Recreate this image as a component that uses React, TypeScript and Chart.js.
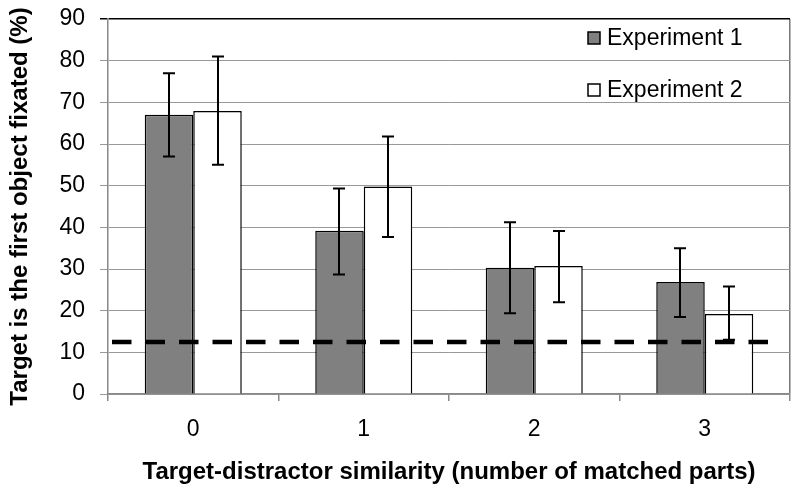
import React, { useEffect, useRef } from "react";
import { Chart, registerables } from "chart.js";

Chart.register(...registerables);

const categories = ["0", "1", "2", "3"];
const seriesLabels = ["Experiment 1", "Experiment 2"];
const exp1Values = [67, 39.2, 30.3, 26.9];
const exp2Values = [67.9, 49.8, 30.7, 19.2];
const exp1Upper = [77, 49.3, 41.2, 35];
const exp1Lower = [57, 28.7, 19.4, 18.5];
const exp2Upper = [81, 61.8, 39.1, 25.8];
const exp2Lower = [55, 37.7, 22, 13];
const chanceLevel = 12.5;
const yTicks = [0, 10, 20, 30, 40, 50, 60, 70, 80, 90];

const FONT = "'Liberation Sans', Arial, sans-serif";

const errorBarPlugin = {
  id: "errorBars",
  afterDatasetsDraw(chart: any) {
    const ctx = chart.ctx;
    const y = chart.scales.y;
    const bounds = [
      [exp1Lower, exp1Upper],
      [exp2Lower, exp2Upper],
    ];
    ctx.save();
    ctx.strokeStyle = "#000";
    ctx.lineWidth = 2;
    chart.data.datasets.forEach((ds: any, di: number) => {
      const meta = chart.getDatasetMeta(di);
      meta.data.forEach((bar: any, i: number) => {
        const lo = y.getPixelForValue(bounds[di][0][i]);
        const hi = y.getPixelForValue(bounds[di][1][i]);
        const x = Math.round(bar.x);
        ctx.beginPath();
        ctx.moveTo(x, lo);
        ctx.lineTo(x, hi);
        ctx.moveTo(x - 6, lo);
        ctx.lineTo(x + 6, lo);
        ctx.moveTo(x - 6, hi);
        ctx.lineTo(x + 6, hi);
        ctx.stroke();
      });
    });
    // chance level dashed line
    const { left, right } = chart.chartArea;
    const yc = y.getPixelForValue(chanceLevel);
    ctx.strokeStyle = "#000";
    ctx.lineWidth = 4.5;
    ctx.setLineDash([19.5, 14]);
    ctx.beginPath();
    ctx.moveTo(left + 4, yc);
    ctx.lineTo(right - 17, yc);
    ctx.stroke();
    ctx.restore();
  },
};

const legendPlugin = {
  id: "insideLegend",
  afterDraw(chart: any) {
    const ctx = chart.ctx;
    const { right, top } = chart.chartArea;
    ctx.save();
    chart.data.datasets.forEach((ds: any, i: number) => {
      const cy = top + 19 + i * 52;
      const bx = right - 202;
      ctx.fillStyle = ds.backgroundColor;
      ctx.fillRect(bx, cy - 6, 12, 12);
      ctx.strokeStyle = "#000";
      ctx.lineWidth = 1.5;
      ctx.strokeRect(bx, cy - 6, 12, 12);
      ctx.fillStyle = "#000";
      ctx.font = `23px ${FONT}`;
      ctx.textBaseline = "middle";
      ctx.textAlign = "left";
      ctx.fillText(ds.label, bx + 19, cy + 1);
    });
    ctx.restore();
  },
};

export default function App() {
  const ref = useRef<HTMLCanvasElement>(null);
  useEffect(() => {
    document.body.style.margin = "0";
    const chart = new Chart(ref.current as HTMLCanvasElement, {
      type: "bar",
      data: {
        labels: categories,
        datasets: [
          {
            label: seriesLabels[0],
            data: exp1Values,
            backgroundColor: "#808080",
            borderColor: "#000",
            borderWidth: 1.5,
            categoryPercentage: 0.569,
            barPercentage: 1,
          },
          {
            label: seriesLabels[1],
            data: exp2Values,
            backgroundColor: "#ffffff",
            borderColor: "#000",
            borderWidth: 1.5,
            categoryPercentage: 0.569,
            barPercentage: 1,
          },
        ],
      },
      options: {
        responsive: false,
        animation: false,
        layout: { padding: { left: 0, right: 10, top: 19, bottom: 0 } },
        plugins: {
          legend: { display: false },
          tooltip: { enabled: false },
        },
        scales: {
          x: {
            offset: true,
            afterFit(scale: any) {
              scale.height = 102;
              scale.paddingLeft = 0;
              scale.paddingRight = 0;
            },
            grid: {
              offset: true,
              drawOnChartArea: true,
              drawTicks: true,
              tickLength: 7,
              tickColor: "#888",
              color: (c: any) => (c.type === "scale" ? "#777" : "rgba(0,0,0,0)"),
              lineWidth: 1.5,
            },
            border: { display: true, color: "#888", width: 1.5 },
            ticks: {
              color: "#000",
              font: { family: FONT, size: 23 },
              padding: 15,
            },
            title: {
              display: true,
              text: "Target-distractor similarity (number of matched parts)",
              color: "#000",
              font: { family: FONT, size: 24, weight: "bold" },
              padding: { top: 0, bottom: 9 },
            },
          },
          y: {
            min: 0,
            max: 90,
            afterFit(scale: any) {
              scale.width = 108;
              scale.paddingTop = 0;
              scale.paddingBottom = 0;
            },
            afterBuildTicks(scale: any) {
              scale.ticks = yTicks.map((v) => ({ value: v }));
            },
            grid: {
              color: (c: any) => (c.tick && c.tick.value === 90 ? "#000" : "#999"),
              lineWidth: (c: any) => (c.tick && c.tick.value === 90 ? 1.5 : 1),
              tickLength: 8,
            },
            border: { display: true, color: "#888", width: 1.5 },
            ticks: {
              color: "#000",
              font: { family: FONT, size: 23 },
              padding: 15,
            },
            title: {
              display: true,
              text: "Target is the first object fixated (%)",
              color: "#000",
              font: { family: FONT, size: 24, weight: "bold" },
              padding: { top: 6, bottom: 0 },
            },
          },
        },
      },
      plugins: [errorBarPlugin, legendPlugin],
    });
    return () => chart.destroy();
  }, []);
  return (
    <div style={{ position: "absolute", left: 0, top: 0, width: 800, height: 496 }}>
      <canvas ref={ref} width={800} height={496} />
    </div>
  );
}
